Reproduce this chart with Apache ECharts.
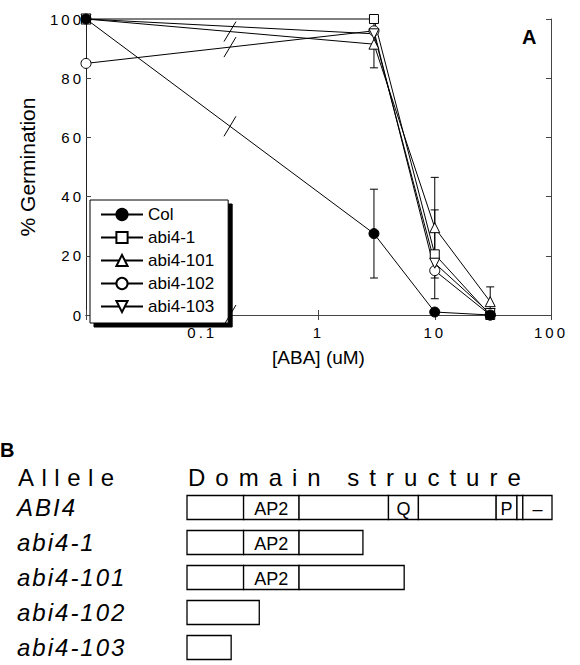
<!DOCTYPE html>
<html>
<head>
<meta charset="utf-8">
<script src="https://cdn.jsdelivr.net/npm/echarts@6/dist/echarts.min.js"></script>
<style>
html, body { margin: 0; padding: 0; background: #fff; }
#chart { width: 580px; height: 665px; }
/* letter spacing for spaced-out type (svg text) */
#chart text[style*="SpacedWide"] { letter-spacing: 7.5px; }
#chart text[style*="SpacedMid"] { letter-spacing: 10px; }
#chart text[style*="SpacedRow"] { letter-spacing: 2px; }
#chart text[style*="SpacedTick"] { letter-spacing: 3px; }
</style>
</head>
<body>
<div id="chart"></div>
<script>
// ---- panel A: germination vs ABA ----
// ABA doses in uM (0 uM is drawn at the left edge, 0.01)
var doses = [0.01, 3, 10, 30]
var colValues = [100, 27.5, 1, 0]
var abi41Values = [100, 100, 20.5, 0]
var abi4101Values = [100, 91.5, 29.5, 4.5]
var abi4102Values = [85, 96, 15, 0]
var abi4103Values = [100, 95, 17.5, 0.5]
// error bars: [dose, low, high]
var errorBars = [[3, 12.5, 42.5], [3, 83.5, 100], [10, 12.5, 46.5], [10, 5.5, 35.5], [30, 0, 9.5]]
var xTickLabels = ['0.1', '1', '10', '100']

// ---- panel B: domain structure ----
var alleles = ['ABI4', 'abi4-1', 'abi4-101', 'abi4-102', 'abi4-103']
// [start, end, label] along the protein, 0-100
var abi4Domains = [[0, 15.5, ''], [15.5, 30.7, 'AP2'], [30.7, 55.2, ''], [55.2, 63.4, 'Q'], [63.4, 84.7, ''], [84.7, 90.4, 'P'], [90.4, 92, ''], [92, 100, '–']]
var abi41Domains = [[0, 15.5, ''], [15.5, 30.7, 'AP2'], [30.7, 48.2, '']]
var abi4101Domains = [[0, 15.5, ''], [15.5, 30.7, 'AP2'], [30.7, 59.5, '']]
var abi4102Domains = [[0, 19.8, '']]
var abi4103Domains = [[0, 12.1, '']]

var FONT = 'Arial, "Liberation Sans", Helvetica, sans-serif'

function pairs(values) {
  return doses.map(function (d, i) { return [d, values[i]] })
}

function lineSeries(name, values, symbol, size, filled, rotate) {
  return {
    name: name,
    type: 'line',
    xAxisIndex: 0,
    yAxisIndex: 0,
    data: pairs(values),
    symbol: symbol,
    symbolSize: size,
    symbolRotate: rotate || 0,
    showAllSymbol: true,
    clip: false,
    z: filled ? 5 : 3,
    lineStyle: { color: '#000', width: 1 },
    itemStyle: { color: filled ? '#000' : '#fff', borderColor: '#000', borderWidth: 1 }
  }
}

// lines that carry the axis-break slash on their first segment (null = the x axis)
var breakLines = [colValues, abi4101Values, abi4102Values, null]

var domainRows = [abi4Domains, abi41Domains, abi4101Domains, abi4102Domains, abi4103Domains]
var domainData = []
var domainLabels = []
domainRows.forEach(function (row, r) {
  row.forEach(function (seg) {
    domainData.push([seg[0], r, seg[1]])
    domainLabels.push(seg[2])
  })
})

var chart = echarts.init(document.getElementById('chart'), null, { renderer: 'svg' })

var option = {
  animation: false,
  backgroundColor: '#fff',
  textStyle: { fontFamily: FONT, color: '#000' },
  grid: [
    { left: 86, right: 29, top: 19, bottom: 350 },
    { left: 187, width: 365, top: 490, height: 184 }
  ],
  legend: {
    orient: 'vertical',
    left: 90,
    top: 200,
    itemWidth: 42,
    itemHeight: 14,
    itemGap: 6,
    padding: [6, 14, 8, 10],
    backgroundColor: '#fff',
    borderColor: '#000',
    borderWidth: 1,
    shadowColor: '#000',
    shadowBlur: 1,
    shadowOffsetX: 4,
    shadowOffsetY: 4,
    textStyle: { fontSize: 17, fontFamily: FONT, color: '#000' },
    data: ['Col', 'abi4-1', 'abi4-101', 'abi4-102', 'abi4-103']
  },
  xAxis: [
    {
      type: 'log', logBase: 10, min: 0.01, max: 100, gridIndex: 0,
      name: '[ABA] (uM)', nameLocation: 'middle', nameGap: 33,
      nameTextStyle: { fontSize: 19, fontFamily: FONT, color: '#000' },
      axisLine: { lineStyle: { color: '#444', width: 1 } },
      axisTick: { inside: true, length: 5, lineStyle: { color: '#444' } },
      axisLabel: {
        margin: 10, fontSize: 15, color: '#000', fontFamily: FONT + ', SpacedTick',
        showMinLabel: true, showMaxLabel: true,
        formatter: function (v) {
          var i = Math.round(Math.log10(v)) + 1
          return i >= 0 ? xTickLabels[i] : ''
        }
      },
      splitLine: { show: false }
    },
    {
      type: 'log', logBase: 10, min: 0.01, max: 100, gridIndex: 0, position: 'top',
      axisLine: { lineStyle: { color: '#444', width: 1 } },
      axisTick: { inside: true, length: 5, lineStyle: { color: '#444' } },
      axisLabel: { show: false },
      splitLine: { show: false }
    },
    {
      type: 'value', min: 0, max: 100, gridIndex: 1, show: false
    }
  ],
  yAxis: [
    {
      type: 'value', min: 0, max: 100, interval: 20, gridIndex: 0,
      name: '% Germination', nameLocation: 'middle', nameGap: 48,
      nameTextStyle: { fontSize: 21, fontFamily: FONT, color: '#000' },
      axisLine: { show: true, lineStyle: { color: '#222', width: 1 } },
      axisTick: { inside: true, length: 5, lineStyle: { color: '#444' } },
      axisLabel: { margin: 2, fontSize: 15, color: '#000', fontFamily: FONT + ', SpacedTick' },
      splitLine: { show: false }
    },
    {
      type: 'value', min: 0, max: 100, interval: 20, gridIndex: 0, position: 'right',
      axisLine: { show: true, lineStyle: { color: '#444', width: 1 } },
      axisTick: { inside: true, length: 5, lineStyle: { color: '#444' } },
      axisLabel: { show: false },
      splitLine: { show: false }
    },
    {
      type: 'category', data: alleles, inverse: true, gridIndex: 1,
      axisLine: { show: false },
      axisTick: { show: false },
      axisLabel: {
        margin: 170, align: 'left', fontSize: 24, fontStyle: 'italic', color: '#000',
        fontFamily: FONT + ', SpacedRow'
      }
    }
  ],
  series: [
    {
      name: 'errorbars',
      type: 'custom',
      xAxisIndex: 0,
      yAxisIndex: 0,
      z: 2,
      clip: false,
      encode: { x: 0, y: [1, 2] },
      data: errorBars,
      renderItem: function (params, api) {
        var lo = api.coord([api.value(0), api.value(1)])
        var hi = api.coord([api.value(0), api.value(2)])
        var w = 4
        var st = { stroke: '#000', lineWidth: 1 }
        return {
          type: 'group',
          children: [
            { type: 'line', shape: { x1: lo[0], y1: lo[1], x2: hi[0], y2: hi[1] }, style: st },
            { type: 'line', shape: { x1: lo[0] - w, y1: lo[1], x2: lo[0] + w, y2: lo[1] }, style: st },
            { type: 'line', shape: { x1: hi[0] - w, y1: hi[1], x2: hi[0] + w, y2: hi[1] }, style: st }
          ]
        }
      }
    },
    {
      name: 'breaks',
      type: 'custom',
      xAxisIndex: 0,
      yAxisIndex: 0,
      z: 4,
      clip: false,
      encode: { x: 0, y: 1 },
      data: breakLines.map(function (v, k) { return [doses[0], v ? v[0] : 0, k] }),
      renderItem: function (params, api) {
        var v = breakLines[params.dataIndex]
        var a, b
        if (v) {
          a = api.coord([doses[0], v[0]])
          b = api.coord([doses[1], v[1]])
        } else {
          a = api.coord([doses[0], 0])
          b = api.coord([doses[1], 0])
        }
        var mx = (a[0] + b[0]) / 2
        var my = (a[1] + b[1]) / 2
        return {
          type: 'line',
          shape: { x1: mx + 6, y1: my - 10, x2: mx - 6, y2: my + 10 },
          style: { stroke: '#000', lineWidth: 1 }
        }
      }
    },
    lineSeries('Col', colValues, 'circle', 10, true),
    lineSeries('abi4-1', abi41Values, 'rect', 9, false),
    lineSeries('abi4-101', abi4101Values, 'triangle', 10, false),
    lineSeries('abi4-102', abi4102Values, 'circle', 10, false),
    lineSeries('abi4-103', abi4103Values, 'triangle', 10, false, 180),
    {
      name: 'domains',
      type: 'custom',
      xAxisIndex: 2,
      yAxisIndex: 2,
      clip: false,
      encode: { x: [0, 2], y: 1 },
      data: domainData,
      renderItem: function (params, api) {
        var s = api.coord([api.value(0), api.value(1)])
        var e = api.coord([api.value(2), api.value(1)])
        var h = 24
        var label = domainLabels[params.dataIndex]
        return {
          type: 'group',
          children: [
            {
              type: 'rect',
              shape: { x: s[0], y: s[1] - h / 2, width: e[0] - s[0], height: h },
              style: { fill: '#fff', stroke: '#000', lineWidth: 1.3 }
            },
            {
              type: 'text',
              style: {
                text: label, x: (s[0] + e[0]) / 2, y: s[1] + 1,
                align: 'center', verticalAlign: 'middle',
                fontSize: 18, fontFamily: FONT, fill: '#000'
              }
            }
          ]
        }
      }
    }
  ],
  graphic: [
    { type: 'text', left: 522, top: 27, style: { text: 'A', fontSize: 20, fontWeight: 'bold', fontFamily: FONT, fill: '#000' } },
    { type: 'text', left: 0, top: 440, style: { text: 'B', fontSize: 20, fontWeight: 'bold', fontFamily: FONT, fill: '#000' } },
    { type: 'text', left: 18, top: 465, style: { text: 'Allele', fontSize: 24, fontFamily: FONT + ', SpacedWide', fill: '#000' } },
    { type: 'text', left: 188, top: 465, style: { text: 'Domain structure', fontSize: 24, fontFamily: FONT + ', SpacedMid', fill: '#000' } }
  ]
}

chart.setOption(option)
</script>
</body>
</html>
